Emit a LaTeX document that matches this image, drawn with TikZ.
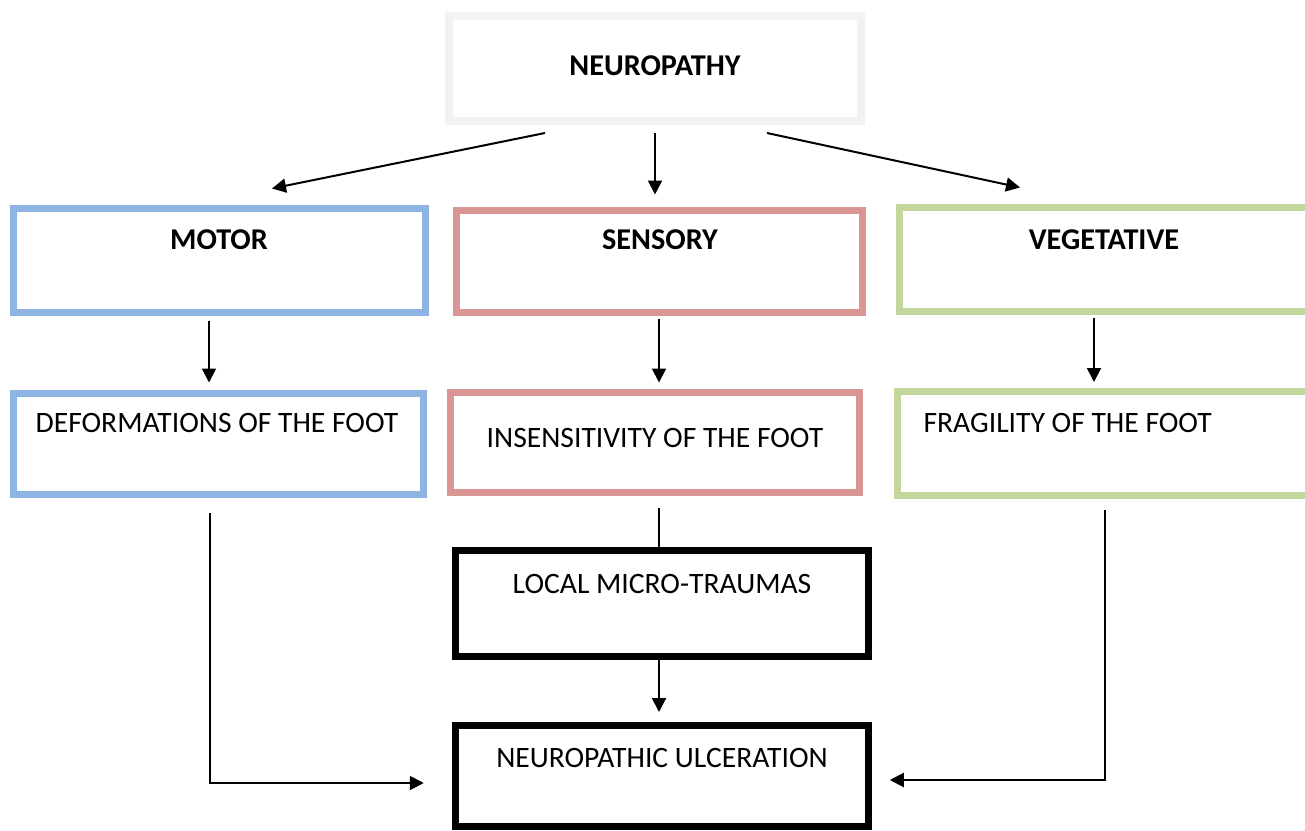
\documentclass[tikz,border=0pt]{standalone}
\usepackage{fontspec}
\setmainfont{Carlito}
\usetikzlibrary{arrows.meta}

\definecolor{neurogrey}{HTML}{F2F2F2}
\definecolor{motorblue}{HTML}{8EB4E3}
\definecolor{sensred}{HTML}{D99694}
\definecolor{veggreen}{HTML}{C3D69B}

\begin{document}
\begin{tikzpicture}[x=1pt,y=-1pt,
box/.style={draw,line width=7pt,inner sep=0pt},
main text/.style={anchor=base,font=\fontsize{29.6}{34}\selectfont},
head text/.style={main text,font=\fontsize{30.2}{34}\selectfont\bfseries},
link/.style={line width=2pt},
arrow/.style={link,-{Triangle[length=14pt,width=14pt]}}]
\useasboundingbox (0,0) rectangle (1305,830);

% boxes
\node[box,draw=neurogrey,line width=8pt,minimum width=412pt,minimum height=105pt] (neuro) at (655,68.5) {};
\node[box,draw=motorblue,minimum width=412pt,minimum height=104pt] (motor) at (219,260) {};
\node[box,draw=sensred,minimum width=406pt,minimum height=102pt] (sensory) at (659,261) {};
\node[box,draw=veggreen,minimum width=410pt,minimum height=104pt] (veget) at (1104,259) {};
\node[box,draw=motorblue,minimum width=410pt,minimum height=101pt] (deform) at (218,443.5) {};
\node[box,draw=sensred,minimum width=409pt,minimum height=100pt] (insens) at (654.5,442) {};
\node[box,draw=veggreen,minimum width=412pt,minimum height=104pt] (fragil) at (1103,443) {};
\node[box,draw=black,minimum width=413.5pt,minimum height=106pt] (local) at (662,603) {};
\node[box,draw=black,minimum width=413.5pt,minimum height=101pt] (ulcer) at (662,775.5) {};

% texts
\node[head text] (tneuro) at (655,75) {NEUROPATHY};
\node[head text] (tmotor) at (219,249) {MOTOR};
\node[head text] (tsensory) at (660,249) {SENSORY};
\node[head text] (tveget) at (1104,249) {VEGETATIVE};
\node[main text] (tdeform) at (217,432) {DEFORMATIONS OF THE FOOT};
\node[main text] (tinsens) at (655,447) {INSENSITIVITY OF THE FOOT};
\node[main text,anchor=base west] (tfragil) at (920,432) {FRAGILITY OF THE FOOT};
\node[main text] (tlocal) at (662,593) {LOCAL MICRO-TRAUMAS};
\node[main text] (tulcer) at (662,767) {NEUROPATHIC ULCERATION};

% connectors
\draw[arrow] ([xshift=-110pt,yshift=-8pt]neuro.south) -- ([xshift=53pt,yshift=16pt]motor.north);
\draw[arrow,shorten <=8pt,shorten >=12pt] (neuro.south) -- (neuro.south |- sensory.north);
\draw[arrow] ([xshift=112pt,yshift=-8pt]neuro.south) -- ([xshift=-84pt,yshift=16pt]veget.north);

\draw[arrow,shorten <=5pt,shorten >=7pt] ([xshift=-10pt]motor.south) -- ([xshift=-10pt]motor.south |- deform.north);
\draw[arrow,shorten <=3pt,shorten >=6pt] (sensory.south) -- (sensory.south |- insens.north);
\draw[arrow,shorten <=3.5pt,shorten >=5.5pt] ([xshift=-10pt]veget.south) -- ([xshift=-10pt]veget.south |- fragil.north);

\draw[link,shorten <=12.5pt] ([xshift=4.5pt]insens.south) -- ([xshift=4.5pt]insens.south |- local.north);
\draw[arrow,shorten >=9.5pt] ([xshift=-3pt]local.south) -- ([xshift=-3pt]local.south |- ulcer.north);

\draw[arrow,shorten <=15.5pt,shorten >=28pt] ([xshift=-8pt]deform.south) |- ([yshift=-7.5pt]ulcer.west);
\draw[arrow,shorten <=11.5pt,shorten >=17.5pt] ([xshift=2pt]fragil.south) |- ([yshift=-4.5pt]ulcer.east);
\end{tikzpicture}
\end{document}
